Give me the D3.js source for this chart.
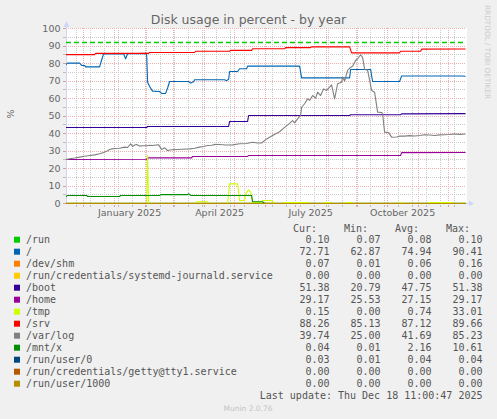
<!DOCTYPE html>
<html>
<head>
<meta charset="utf-8">
<script src="https://cdn.jsdelivr.net/npm/d3@7"></script>
<style>
  html, body { margin:0; padding:0; background:#f0f0f0; }
  svg { display:block; }
  text { font-family: "DejaVu Sans", sans-serif; }
  .mono { font-family: "DejaVu Sans Mono", monospace; }
</style>
</head>
<body>
<svg id="chart" width="497" height="419"></svg>
<script>
var chartTitle = "Disk usage in percent - by year";
var startDay = "2024-11-13", endDay = "2025-12-18";
var lastUpdate = "Last update: Thu Dec 18 11:00:47 2025";
var yMajorTicks = [0, 10, 20, 30, 40, 50, 60, 70, 80, 90, 100];
var yMinorTicks = [5, 15, 25, 35, 45, 55, 65, 75, 85, 95];
var monthLabels = ["2025-01-01", "2025-04-01", "2025-07-01", "2025-10-01"];
var minorGridAnchor = "2024-11-24";
var warningLevel = 92;

var fieldNames = ["/run", "/", "/dev/shm", "/run/credentials/systemd-journald.service", "/boot", "/home",
  "/tmp", "/srv", "/var/log", "/mnt/x", "/run/user/0", "/run/credentials/getty@tty1.service", "/run/user/1000"];
var fieldColors = ["#00CC00", "#0066B3", "#FF8000", "#FFCC00", "#330099", "#990099",
  "#CCFF00", "#FF0000", "#808080", "#008F00", "#00487D", "#B35A00", "#B38F00"];
var curValues = [0.10, 72.71, 0.07, 0.00, 51.38, 29.17, 0.15, 88.26, 39.74, 0.04, 0.03, 0.00, 0.00];
var minValues = [0.07, 62.87, 0.01, 0.00, 20.79, 25.53, 0.00, 85.13, 25.00, 0.01, 0.01, 0.00, 0.00];
var avgValues = [0.08, 74.94, 0.06, 0.00, 47.75, 27.15, 0.74, 87.12, 41.69, 2.16, 0.04, 0.00, 0.00];
var maxValues = [0.10, 90.41, 0.16, 0.00, 51.38, 29.17, 33.01, 89.66, 85.23, 10.61, 0.04, 0.00, 0.00];

var runSeries = [["2024-11-13", 0.07], ["2025-06-01", 0.08], ["2025-12-18", 0.10]];
var rootSeries = [["2024-11-13", 79.2], ["2024-11-15", 80.2], ["2024-11-27", 80.2], ["2024-11-29", 78.9],
  ["2024-12-02", 78.9], ["2024-12-03", 78.1], ["2024-12-17", 78.1], ["2024-12-19", 82.0], ["2024-12-21", 85.5],
  ["2025-01-10", 85.5], ["2025-01-12", 82.7], ["2025-01-14", 85.6], ["2025-02-02", 85.8], ["2025-02-03", 69.3],
  ["2025-02-05", 66.9], ["2025-02-08", 64.2], ["2025-02-15", 64.0], ["2025-02-17", 62.9], ["2025-02-21", 62.9],
  ["2025-02-23", 66.0], ["2025-02-25", 69.7], ["2025-03-16", 69.7], ["2025-03-18", 68.8], ["2025-03-21", 69.6],
  ["2025-03-22", 70.7], ["2025-04-21", 70.7], ["2025-04-23", 70.2], ["2025-04-25", 71.0], ["2025-04-26", 75.4],
  ["2025-05-04", 75.4], ["2025-05-06", 77.0], ["2025-05-13", 77.0], ["2025-05-14", 78.5], ["2025-07-05", 78.5],
  ["2025-07-07", 71.8], ["2025-08-24", 71.8], ["2025-08-25", 76.6], ["2025-09-14", 76.6], ["2025-09-16", 69.7],
  ["2025-10-13", 69.7], ["2025-10-15", 72.9], ["2025-12-14", 72.9], ["2025-12-18", 72.7]];
var shmSeries = [["2024-11-13", 0.05], ["2025-12-18", 0.07]];
var journaldSeries = [["2024-11-13", 0], ["2025-12-18", 0]];
var bootSeries = [["2024-11-13", 43.4], ["2025-02-02", 43.4], ["2025-02-03", 44.0], ["2025-04-25", 44.0],
  ["2025-04-26", 46.9], ["2025-05-14", 46.9], ["2025-05-15", 50.3], ["2025-08-24", 50.3], ["2025-08-25", 50.7],
  ["2025-10-14", 50.7], ["2025-10-15", 51.2], ["2025-12-18", 51.38]];
var homeSeries = [["2024-11-13", 25.1], ["2025-02-02", 25.3], ["2025-02-03", 26.1], ["2025-03-19", 26.1],
  ["2025-03-20", 26.9], ["2025-05-14", 26.9], ["2025-05-15", 27.4], ["2025-10-14", 27.4], ["2025-10-15", 29.1],
  ["2025-12-18", 29.17]];
var tmpSeries = [["2024-11-13", 0], ["2025-02-02", 0], ["2025-02-03", 27.4], ["2025-02-04", 0],
  ["2025-03-23", 0], ["2025-03-24", 1.0], ["2025-04-04", 1.0], ["2025-04-05", 0], ["2025-04-24", 0],
  ["2025-04-26", 11.2], ["2025-05-04", 11.2], ["2025-05-06", 1.7], ["2025-05-11", 1.7], ["2025-05-12", 5.5],
  ["2025-05-15", 7.8], ["2025-05-17", 6.5], ["2025-05-19", 0.8], ["2025-05-28", 0.6], ["2025-05-29", 1.7],
  ["2025-06-07", 1.7], ["2025-06-10", 0], ["2025-06-19", 0], ["2025-06-20", 0.6], ["2025-07-13", 0.6],
  ["2025-07-14", 0], ["2025-07-29", 0], ["2025-07-30", 0.6], ["2025-08-04", 0.6], ["2025-08-05", 0],
  ["2025-08-20", 0], ["2025-08-21", 0.6], ["2025-08-26", 0.6], ["2025-08-27", 0], ["2025-10-12", 0],
  ["2025-10-13", 0.5], ["2025-10-15", 0.5], ["2025-10-16", 0], ["2025-11-11", 0], ["2025-11-12", 0.5],
  ["2025-11-17", 0.5], ["2025-11-18", 0], ["2025-11-20", 0.6], ["2025-12-04", 0.6], ["2025-12-05", 0],
  ["2025-12-18", 0.15]];
var srvSeries = [["2024-11-13", 85.1], ["2024-12-12", 85.1], ["2024-12-13", 85.8], ["2025-02-04", 85.8],
  ["2025-02-05", 86.3], ["2025-03-22", 86.3], ["2025-03-23", 87.0], ["2025-04-26", 87.0], ["2025-04-27", 87.5],
  ["2025-05-18", 87.5], ["2025-05-19", 88.4], ["2025-06-20", 88.4], ["2025-06-21", 89.1], ["2025-07-16", 89.1],
  ["2025-07-17", 89.5], ["2025-08-24", 89.5], ["2025-08-26", 86.1], ["2025-10-13", 86.1], ["2025-10-14", 87.0],
  ["2025-11-03", 87.0], ["2025-11-04", 88.2], ["2025-12-18", 88.26]];
var varlogSeries = [["2024-11-13", 25.1], ["2024-11-17", 25.6], ["2024-11-22", 26.0], ["2024-11-27", 26.5],
  ["2024-12-02", 27.0], ["2024-12-07", 27.4], ["2024-12-12", 27.8], ["2024-12-17", 28.4], ["2024-12-21", 29.2],
  ["2024-12-24", 29.9], ["2024-12-27", 30.8], ["2024-12-29", 31.2], ["2025-01-02", 31.4], ["2025-01-06", 31.6],
  ["2025-01-11", 32.2], ["2025-01-14", 32.0], ["2025-01-17", 34.1], ["2025-01-19", 32.6], ["2025-01-21", 33.4],
  ["2025-01-23", 33.7], ["2025-01-26", 32.8], ["2025-01-29", 33.0], ["2025-02-02", 33.0], ["2025-02-05", 33.3],
  ["2025-02-08", 33.1], ["2025-02-11", 33.4], ["2025-02-14", 33.5], ["2025-02-17", 30.9], ["2025-02-20", 31.8],
  ["2025-02-23", 30.3], ["2025-02-27", 30.7], ["2025-03-04", 30.9], ["2025-03-10", 31.0], ["2025-03-17", 31.2],
  ["2025-03-22", 31.6], ["2025-03-27", 32.2], ["2025-03-31", 32.6], ["2025-04-04", 33.1], ["2025-04-08", 33.3],
  ["2025-04-12", 33.8], ["2025-04-16", 33.7], ["2025-04-22", 33.4], ["2025-04-29", 33.5], ["2025-05-06", 34.1],
  ["2025-05-13", 34.3], ["2025-05-19", 35.0], ["2025-05-24", 34.6], ["2025-05-28", 34.6], ["2025-06-02", 36.9],
  ["2025-06-08", 38.9], ["2025-06-15", 41.0], ["2025-06-20", 43.5], ["2025-06-25", 45.8], ["2025-06-28", 47.4],
  ["2025-06-30", 46.1], ["2025-07-03", 48.4], ["2025-07-06", 50.3], ["2025-07-07", 55.0], ["2025-07-10", 57.0],
  ["2025-07-13", 59.8], ["2025-07-15", 58.9], ["2025-07-18", 61.7], ["2025-07-21", 60.2], ["2025-07-23", 63.6],
  ["2025-07-26", 61.7], ["2025-07-29", 65.5], ["2025-08-01", 64.6], ["2025-08-04", 66.5], ["2025-08-06", 67.8],
  ["2025-08-09", 59.8], ["2025-08-12", 68.4], ["2025-08-16", 69.3], ["2025-08-17", 72.2], ["2025-08-19", 70.0],
  ["2025-08-22", 76.0], ["2025-08-24", 77.3], ["2025-08-27", 78.5], ["2025-08-30", 81.7], ["2025-09-01", 82.7],
  ["2025-09-04", 85.0], ["2025-09-06", 83.5], ["2025-09-08", 76.6], ["2025-09-11", 76.2], ["2025-09-15", 64.6],
  ["2025-09-18", 63.6], ["2025-09-21", 52.2], ["2025-09-25", 52.0], ["2025-09-26", 51.4], ["2025-09-28", 40.8],
  ["2025-10-02", 40.5], ["2025-10-05", 37.9], ["2025-10-10", 38.0], ["2025-10-13", 38.5], ["2025-10-18", 38.5],
  ["2025-10-23", 38.8], ["2025-10-28", 38.6], ["2025-11-02", 38.9], ["2025-11-07", 39.3], ["2025-11-12", 39.1],
  ["2025-11-17", 38.9], ["2025-11-22", 39.2], ["2025-12-02", 39.4], ["2025-12-07", 39.7], ["2025-12-12", 39.5],
  ["2025-12-18", 39.74]];
var mntSeries = [["2024-11-13", 3.6], ["2024-11-15", 4.6], ["2024-12-04", 4.6], ["2024-12-05", 4.0],
  ["2025-01-06", 4.0], ["2025-01-07", 4.6], ["2025-02-15", 4.6], ["2025-02-16", 5.1], ["2025-03-15", 5.1],
  ["2025-03-16", 5.6], ["2025-03-18", 4.6], ["2025-05-18", 4.6], ["2025-05-19", 1.0], ["2025-05-29", 1.0],
  ["2025-05-31", 0.04], ["2025-12-18", 0.04]];
var user0Series = [["2024-11-13", 0.04], ["2025-12-18", 0.03]];
var gettySeries = [["2024-11-13", 0], ["2025-12-18", 0]];
var user1000Series = [["2024-11-13", 0], ["2025-12-18", 0]];

var seriesList = [runSeries, rootSeries, shmSeries, journaldSeries, bootSeries, homeSeries, tmpSeries,
  srvSeries, varlogSeries, mntSeries, user0Series, gettySeries, user1000Series];

// ---- drawing ----
var parseDay = d3.utcParse("%Y-%m-%d");
var monthFormat = d3.utcFormat("%B %Y");
var fmt = d3.format(".2f");

var config = {
  left: 65.6,
  top: 28,
  plotWidth: 400,
  plotHeight: 175,
  fontColor: '#666',
  legendColor: '#555',
  axisColor: '#CFD6F8',
  majorGrid: '#eeb0b0',
  minorGrid: '#cacaca'
};

var svg = d3.select('#chart');
var start = parseDay(startDay), end = parseDay(endDay);

var x = d3.scaleUtc().domain([start, end]).range([config.left, config.left + config.plotWidth]);
var y = d3.scaleLinear().domain([0, 100]).range([config.top + config.plotHeight + 0.5, config.top + 0.5]);
var bottom = Math.floor(y(0)) + 0.5;

function crispX(d) { return Math.floor(x(d)) + 0.5; }
function crispY(v) { return Math.floor(y(v)) + 0.5; }

// canvas
svg.append('rect')
  .attr('x', 66).attr('y', config.top)
  .attr('width', config.plotWidth + 1).attr('height', config.plotHeight + 1)
  .attr('fill', '#fff');

svg.append('defs').append('clipPath').attr('id', 'plotClip')
  .append('rect')
  .attr('x', 66).attr('y', config.top - 2)
  .attr('width', config.plotWidth + 1).attr('height', config.plotHeight + 4);

var grid = svg.append('g').attr('shape-rendering', 'crispEdges');

// minor grid
var minorDays = d3.utcSunday.range(parseDay(minorGridAnchor), end, 2);
grid.selectAll('line.vminor').data(minorDays).enter().append('line')
  .attr('x1', crispX).attr('x2', crispX)
  .attr('y1', config.top).attr('y2', bottom)
  .attr('stroke', config.minorGrid).attr('stroke-dasharray', '1,1');
grid.selectAll('line.hminor').data(yMinorTicks).enter().append('line')
  .attr('x1', 66).attr('x2', 66 + config.plotWidth)
  .attr('y1', crispY).attr('y2', crispY)
  .attr('stroke', config.minorGrid).attr('stroke-dasharray', '1,1');

// major grid
var months = d3.utcMonth.range(d3.utcMonth.ceil(start), end);
grid.selectAll('line.vmajor').data(months).enter().append('line')
  .attr('x1', crispX).attr('x2', crispX)
  .attr('y1', config.top).attr('y2', bottom)
  .attr('stroke', config.majorGrid).attr('stroke-dasharray', '1,1');
grid.selectAll('line.hmajor').data(yMajorTicks).enter().append('line')
  .attr('x1', 66).attr('x2', 66 + config.plotWidth)
  .attr('y1', crispY).attr('y2', crispY)
  .attr('stroke', config.majorGrid).attr('stroke-dasharray', '1,1');

// axis tick marks
grid.selectAll('line.ytick').data(yMajorTicks.concat(yMinorTicks)).enter().append('line')
  .attr('x1', 63).attr('x2', 66)
  .attr('y1', crispY).attr('y2', crispY)
  .attr('stroke', function(d){ return d % 10 ? '#bdbdbd' : '#e39a9a'; });
grid.selectAll('line.xtick').data(minorDays.concat(months)).enter().append('line')
  .attr('x1', crispX).attr('x2', crispX)
  .attr('y1', bottom + 1).attr('y2', bottom + 3)
  .attr('stroke', function(d, i){ return i < minorDays.length ? '#bdbdbd' : '#e39a9a'; });

// axes with arrows
svg.append('line')
  .attr('x1', 66.5).attr('x2', 66.5).attr('y1', bottom).attr('y2', 24)
  .attr('stroke', config.axisColor).attr('shape-rendering', 'crispEdges');
svg.append('path')
  .attr('d', 'M63.5,27L69.5,27L66.5,21Z').attr('fill', config.axisColor);
svg.append('line')
  .attr('x1', 66).attr('x2', 470).attr('y1', bottom).attr('y2', bottom)
  .attr('stroke', config.axisColor).attr('shape-rendering', 'crispEdges');
svg.append('path')
  .attr('d', 'M469,' + (bottom - 3) + 'L469,' + (bottom + 3) + 'L474,' + bottom + 'Z')
  .attr('fill', config.axisColor);

// warning level
svg.append('line')
  .attr('x1', 66).attr('x2', 66 + config.plotWidth)
  .attr('y1', y(warningLevel)).attr('y2', y(warningLevel))
  .attr('stroke', fieldColors[0]).attr('stroke-width', 1.5)
  .attr('stroke-dasharray', '5,3');

// series lines
var line = d3.line()
  .x(function(d){ return x(parseDay(d[0])); })
  .y(function(d){ return y(d[1]); });

svg.append('g').attr('clip-path', 'url(#plotClip)')
  .selectAll('path').data(seriesList).enter().append('path')
  .attr('d', line)
  .attr('fill', 'none')
  .attr('stroke', function(d, i){ return fieldColors[i]; })
  .attr('stroke-width', 1.1)
  .attr('stroke-linejoin', 'round');

// y tick labels
svg.selectAll('text.ylab').data(yMajorTicks).enter().append('text')
  .attr('x', 60.5).attr('y', function(d){ return y(d) + 3.4; })
  .attr('text-anchor', 'end')
  .attr('font-size', '9.5px').attr('fill', config.fontColor)
  .text(function(d){ return d; });

// x month labels, centred half a month after the month start
svg.selectAll('text.xlab').data(monthLabels).enter().append('text')
  .attr('x', function(d){ return x(d3.utcDay.offset(parseDay(d), 15)); })
  .attr('y', 215.5)
  .attr('text-anchor', 'middle')
  .attr('font-size', '9.5px').attr('fill', config.fontColor)
  .text(function(d){ return monthFormat(parseDay(d)); });

// title and side texts
svg.append('text')
  .attr('x', 248.5).attr('y', 24)
  .attr('text-anchor', 'middle')
  .attr('font-size', '12.5px').attr('fill', config.fontColor)
  .text(chartTitle);

svg.append('text')
  .attr('transform', 'translate(14,114) rotate(-90)')
  .attr('text-anchor', 'middle')
  .attr('font-size', '9.5px').attr('fill', config.fontColor)
  .text('%');

svg.append('text')
  .attr('transform', 'translate(485,5) rotate(90)')
  .attr('font-size', '7.3px').attr('fill', '#cdcdcd')
  .text('RRDTOOL / TOBI OETIKER');

// legend
var legend = svg.append('g').attr('class', 'mono');
var colEnds = [329.5, 380.5, 431.5, 482.5];
var headers = ['Cur:', 'Min:', 'Avg:', 'Max:'];
var columns = [curValues, minValues, avgValues, maxValues];

legend.selectAll('text.head').data(headers).enter().append('text')
  .attr('class', 'mono')
  .attr('x', function(d, i){ return colEnds[i] - 12.5; })
  .attr('y', 231.5)
  .attr('text-anchor', 'end')
  .attr('font-size', '10px').attr('fill', config.legendColor)
  .text(function(d){ return d; });

var rows = legend.selectAll('g.row').data(fieldNames).enter().append('g')
  .attr('transform', function(d, i){ return 'translate(0,' + (243 + i * 12) + ')'; });

rows.append('rect')
  .attr('x', 14).attr('y', -6.3).attr('width', 6).attr('height', 6)
  .attr('fill', function(d, i){ return fieldColors[i]; });

rows.append('text')
  .attr('class', 'mono')
  .attr('x', 26).attr('y', 0)
  .attr('font-size', '10px').attr('fill', config.legendColor)
  .text(function(d){ return d; });

columns.forEach(function(col, c){
  rows.append('text')
    .attr('class', 'mono')
    .attr('x', colEnds[c]).attr('y', 0)
    .attr('text-anchor', 'end')
    .attr('font-size', '10px').attr('fill', config.legendColor)
    .text(function(d, i){ return fmt(col[i]); });
});

legend.append('text')
  .attr('class', 'mono')
  .attr('x', colEnds[3]).attr('y', 399.3)
  .attr('text-anchor', 'end')
  .attr('font-size', '10px').attr('fill', config.legendColor)
  .text(lastUpdate);

svg.append('text')
  .attr('x', 248).attr('y', 411)
  .attr('text-anchor', 'middle')
  .attr('font-size', '7.5px').attr('fill', '#c4c4c4')
  .text('Munin 2.0.76');
</script>
</body>
</html>
